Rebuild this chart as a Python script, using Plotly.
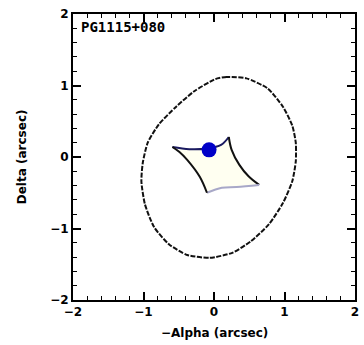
import plotly.graph_objects as go

# Critical curve (arcsec), traced counter-clockwise from the top
crit_x = [0.46, 0.18, 0.02, -0.28, -0.54, -0.78, -0.94, -1.01, -1.03, -0.98, -0.85, -0.64,
          -0.38, -0.06, 0.26, 0.52, 0.78, 0.98, 1.11, 1.16, 1.16, 1.11, 0.98, 0.76, 0.46]
crit_y = [1.10, 1.12, 1.09, 0.92, 0.70, 0.46, 0.20, -0.08, -0.34, -0.66, -0.98, -1.22,
          -1.37, -1.41, -1.34, -1.18, -0.94, -0.64, -0.34, -0.06, 0.20, 0.44, 0.70, 0.96, 1.10]

# Caustic edges (arcsec)
caus_top_x = [-0.59, -0.35, -0.10, 0.10, 0.21]
caus_top_y = [0.14, 0.11, 0.12, 0.17, 0.28]
caus_right_x = [0.21, 0.25, 0.36, 0.49, 0.64]
caus_right_y = [0.28, 0.10, -0.11, -0.27, -0.39]
caus_bottom_x = [0.64, 0.32, 0.11, -0.10]
caus_bottom_y = [-0.39, -0.42, -0.43, -0.50]
caus_left_x = [-0.10, -0.20, -0.38, -0.49, -0.59]
caus_left_y = [-0.50, -0.28, -0.04, 0.07, 0.14]

# Source position (arcsec)
src_x = [-0.07]
src_y = [0.10]

tick_vals = [-2, -1, 0, 1, 2]
tick_text = ["<b>\u22122</b>", "<b>\u22121</b>", "<b>0</b>", "<b>1</b>", "<b>2</b>"]

fig = go.Figure()

# faint fill inside the caustic
fig.add_trace(go.Scatter(
    x=caus_top_x + caus_right_x[1:] + caus_bottom_x[1:] + caus_left_x[1:],
    y=caus_top_y + caus_right_y[1:] + caus_bottom_y[1:] + caus_left_y[1:],
    mode="lines", fill="toself", fillcolor="rgba(255,255,210,0.3)",
    line=dict(width=0, shape="spline"), hoverinfo="skip", showlegend=False))

fig.add_trace(go.Scatter(x=crit_x, y=crit_y, mode="lines",
                         line=dict(color="#111111", width=2, dash="5px,1.5px",
                                   shape="spline", smoothing=0.6),
                         showlegend=False))
fig.add_trace(go.Scatter(x=caus_top_x, y=caus_top_y, mode="lines",
                         line=dict(color="#1a1a60", width=2, shape="spline"), showlegend=False))
fig.add_trace(go.Scatter(x=caus_right_x, y=caus_right_y, mode="lines",
                         line=dict(color="#111111", width=2, shape="spline"), showlegend=False))
fig.add_trace(go.Scatter(x=caus_bottom_x, y=caus_bottom_y, mode="lines",
                         line=dict(color="#a8a8c8", width=2, shape="spline"), showlegend=False))
fig.add_trace(go.Scatter(x=caus_left_x, y=caus_left_y, mode="lines",
                         line=dict(color="#111111", width=2, shape="spline"), showlegend=False))
fig.add_trace(go.Scatter(x=src_x, y=src_y, mode="markers",
                         marker=dict(color="#0000c8", size=15, line=dict(width=0)),
                         showlegend=False))

axis_common = dict(
    range=[-2, 2], tickvals=tick_vals, ticktext=tick_text,
    ticks="inside", ticklen=8, tickwidth=1.5, tickcolor="black",
    minor=dict(dtick=0.2, ticks="inside", ticklen=4, tickwidth=1, tickcolor="black"),
    showline=True, linecolor="black", linewidth=2, mirror="allticks",
    showgrid=False, zeroline=False,
    tickfont=dict(family="DejaVu Sans", size=12, color="black"),
)

fig.update_layout(
    width=364, height=345,
    margin=dict(l=73, r=5, t=14, b=45),
    paper_bgcolor="white", plot_bgcolor="white",
    xaxis=axis_common,
    yaxis=axis_common,
    annotations=[
        dict(text="<b>PG1115+080</b>", xref="paper", yref="paper", x=0.02, y=0.99,
             xanchor="left", yanchor="top", showarrow=False,
             font=dict(family="DejaVu Sans Mono", size=14, color="black")),
        dict(text="<b>\u2212Alpha (arcsec)</b>", xref="paper", yref="paper", x=0.5, y=-0.085,
             xanchor="center", yanchor="top", showarrow=False,
             font=dict(family="DejaVu Sans", size=12, color="black")),
        dict(text="<b>Delta (arcsec)</b>", xref="paper", yref="paper", x=-0.18, y=0.5,
             xanchor="center", yanchor="middle", textangle=-90, showarrow=False,
             font=dict(family="DejaVu Sans", size=12, color="black")),
    ],
)

fig.write_html("out.html")
